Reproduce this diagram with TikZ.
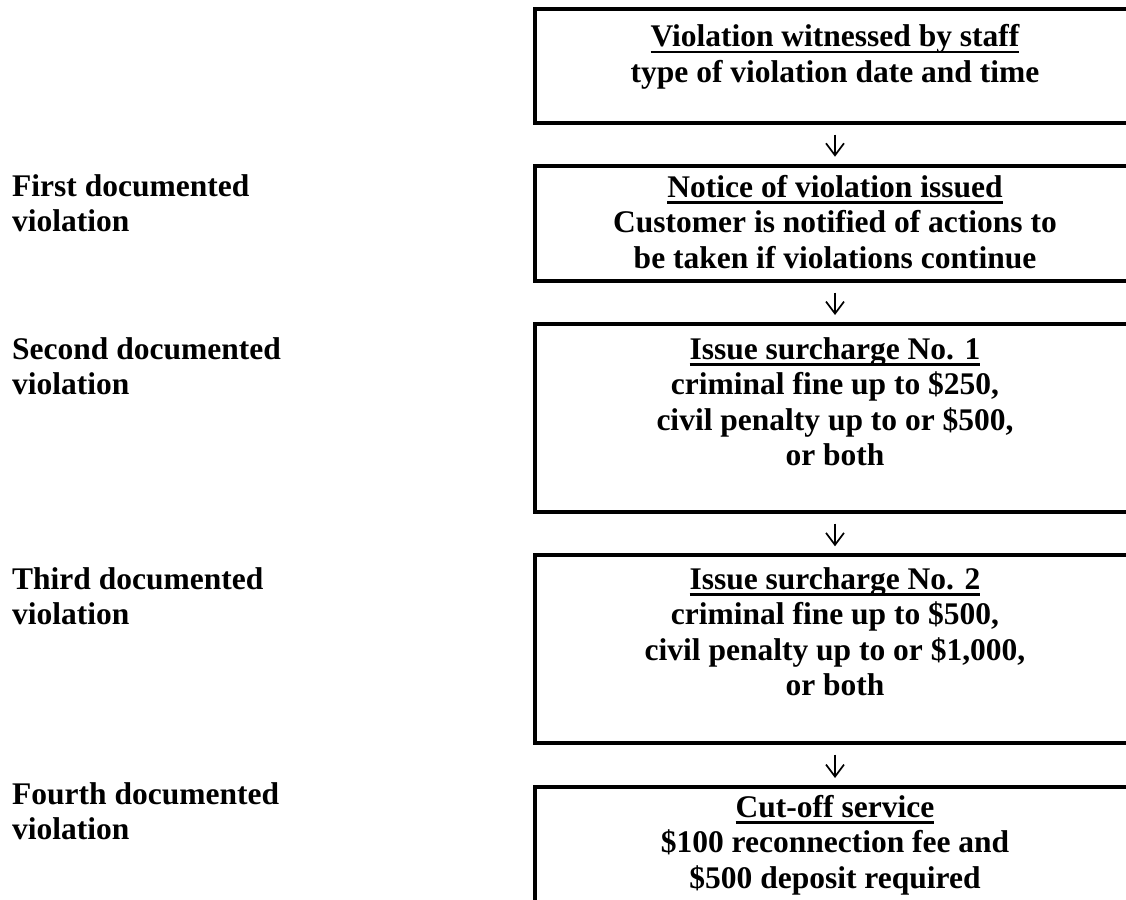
\documentclass[tikz,border=0pt]{standalone}
\usepackage{fontspec}
\setmainfont{Liberation Serif}
\usetikzlibrary{arrows.meta}
\tikzset{
  box/.style={draw, line width=4pt, inner sep=0pt, outer sep=0pt, minimum width=600pt, anchor=north west},
  txt/.style={inner sep=0pt, anchor=base, font=\fontsize{31.5}{35.5}\selectfont\bfseries},
  lbl/.style={inner sep=0pt, anchor=base west, font=\fontsize{31.5}{35.5}\selectfont\bfseries},
  flow/.style={line width=1.7pt, -{Straight Barb[length=12pt,width=18pt]}, shorten <=12pt, shorten >=9pt}
}
\newcommand{\myul}[1]{\setbox0\hbox{#1}\rlap{\rule[-6.5pt]{\wd0}{2.8pt}}\box0}
\begin{document}
\begin{tikzpicture}[x=1pt,y=-1pt]
\useasboundingbox (0,0) rectangle (1126,899);
\fill[white] (0,0) rectangle (1126,899);
\clip (0,0) rectangle (1126,899);
% boxes
\node[box, minimum height=113.7pt] (b1) at (535,9) {};
\node[box, minimum height=115pt] (b2) at (535,165.7) {};
\node[box, minimum height=187.7pt] (b3) at (535,324) {};
\node[box, minimum height=187.4pt] (b4) at (535,555.3) {};
\node[box, minimum height=220pt] (b5) at (535,787) {};
% box texts
\node[txt] (t1) at (835,47) {\begin{tabular}[t]{@{}c@{}}\myul{Violation witnessed by staff}\\type of violation date and time\end{tabular}};
\node[txt] (t2) at (835,197) {\begin{tabular}[t]{@{}c@{}}\myul{Notice of violation issued}\\Customer is notified of actions to\\be taken if violations continue\end{tabular}};
\node[txt] (t3) at (835,359) {\begin{tabular}[t]{@{}c@{}}\myul{Issue surcharge No. 1}\\criminal fine up to \$250,\\ civil penalty up to or \$500,\\or both\end{tabular}};
\node[txt] (t4) at (835,589) {\begin{tabular}[t]{@{}c@{}}\myul{Issue surcharge No. 2}\\criminal fine up to \$500,\\ civil penalty up to or \$1,000,\\or both\end{tabular}};
\node[txt] (t5) at (835,817) {\begin{tabular}[t]{@{}c@{}}\myul{Cut-off service}\\\$100 reconnection fee and\\\$500 deposit required\end{tabular}};
% left labels
\node[lbl] (l1) at (12,196) {\begin{tabular}[t]{@{}l@{}}First documented\\violation\end{tabular}};
\node[lbl] (l2) at (12,359) {\begin{tabular}[t]{@{}l@{}}Second documented\\violation\end{tabular}};
\node[lbl] (l3) at (12,589) {\begin{tabular}[t]{@{}l@{}}Third documented\\violation\end{tabular}};
\node[lbl] (l4) at (12,804) {\begin{tabular}[t]{@{}l@{}}Fourth documented\\violation\end{tabular}};
% arrows
\draw[flow] (b1.south) -- (b2.north);
\draw[flow] (b2.south) -- (b3.north);
\draw[flow] (b3.south) -- (b4.north);
\draw[flow] (b4.south) -- (b5.north);
\end{tikzpicture}
\end{document}
